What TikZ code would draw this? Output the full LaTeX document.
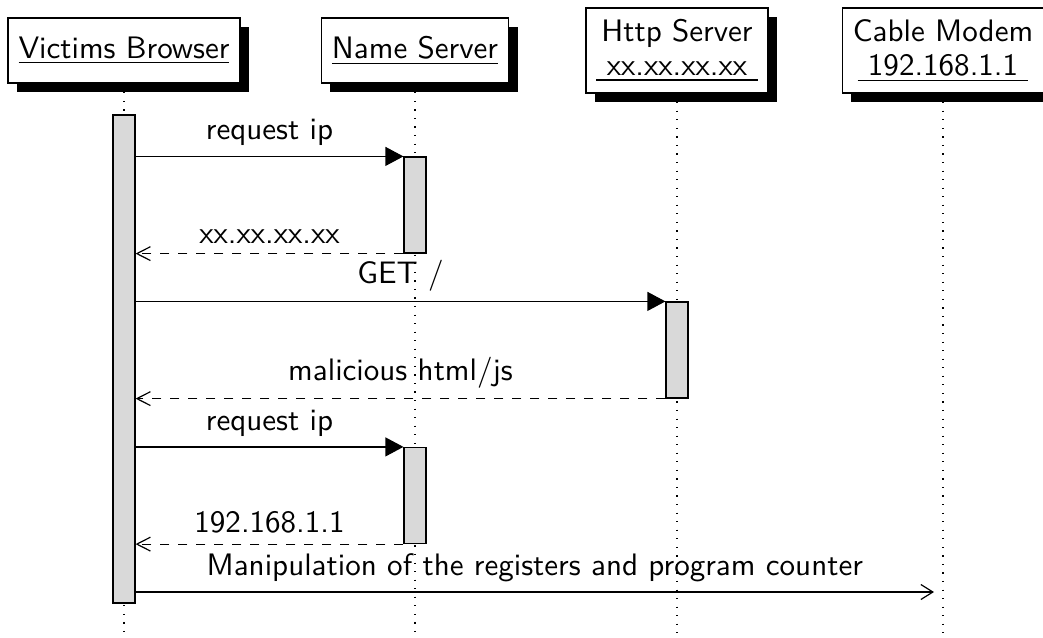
\documentclass[tikz,border=0pt]{standalone}
\usepackage{tikz}
\usetikzlibrary{shadows,arrows.meta}

\begin{document}
\begin{tikzpicture}[x=0.3333pt,y=0.3333pt,font=\sffamily\fontsize{10.35}{11.4}\selectfont,
        inst/.style={rectangle,draw,fill=white,align=center,inner xsep=3.5pt,inner ysep=2pt,minimum height=21.7pt,
            drop shadow={shadow xshift=3pt,shadow yshift=-3pt,opacity=1,fill=black}},
        life/.style={dash pattern=on 0.4pt off 2.45pt},
        bar/.style={rectangle,draw,fill=gray!30,minimum width=7.3pt,inner sep=0pt},
        call/.style={-{Triangle[length=6pt,width=6.3pt]}},
        ret/.style={dashed,-{Straight Barb[length=4.5pt,width=4.6pt]}},
        msg/.style={-{Straight Barb[length=4pt,width=5pt]}}
    ]
        \useasboundingbox (0,0) rectangle (1043,-637);

        \node[inst] (vic) at (124,-50.5) {\underline{Victims Browser}};
        \node[inst] (ns) at (415,-50.5) {\underline{Name Server}};
        \node[inst,minimum height=28.3pt] (http) at (677,-50.5) {Http Server\\\underline{\ xx.xx.xx.xx\ }};
        \node[inst,minimum height=28.3pt] (cm) at (943,-50.5) {Cable Modem\\\underline{\ 192.168.1.1\ }};

        \draw[life] (vic.south) -- (vic.south |- 0,-637);
        \draw[life] (ns.south) -- (ns.south |- 0,-637);
        \draw[life] (http.south) -- (http.south |- 0,-637);
        \draw[life] (cm.south) -- (cm.south |- 0,-637);

        \node[bar,minimum height=162.7pt] (vb) at (124,-359) {};
        \node[bar,minimum height=32pt] (nb1) at (415,-205) {};
        \node[bar,minimum height=32pt] (hb) at (677,-350) {};
        \node[bar,minimum height=32pt] (nb2) at (415,-495.5) {};
        \coordinate (mdm) at (934,-592);

        \draw[call] (vb.east |- nb1.north west) -- (nb1.north west) node[midway,above] {request ip};
        \draw[ret] (nb1.south west) -- (vb.east |- nb1.south west) node[midway,above] {xx.xx.xx.xx};
        \draw[call] (vb.east |- hb.north west) -- (hb.north west) node[midway,above] {GET /};
        \draw[ret] (hb.south west) -- (vb.east |- hb.south west) node[midway,above] {malicious html/js};
        \draw[call] (vb.east |- nb2.north west) -- (nb2.north west) node[midway,above] {request ip};
        \draw[ret] (nb2.south west) -- (vb.east |- nb2.south west) node[midway,above] {192.168.1.1};
        \draw[msg] (vb.east |- mdm) -- (mdm) node[midway,above] {Manipulation of the registers and program counter};
\end{tikzpicture}
\end{document}
